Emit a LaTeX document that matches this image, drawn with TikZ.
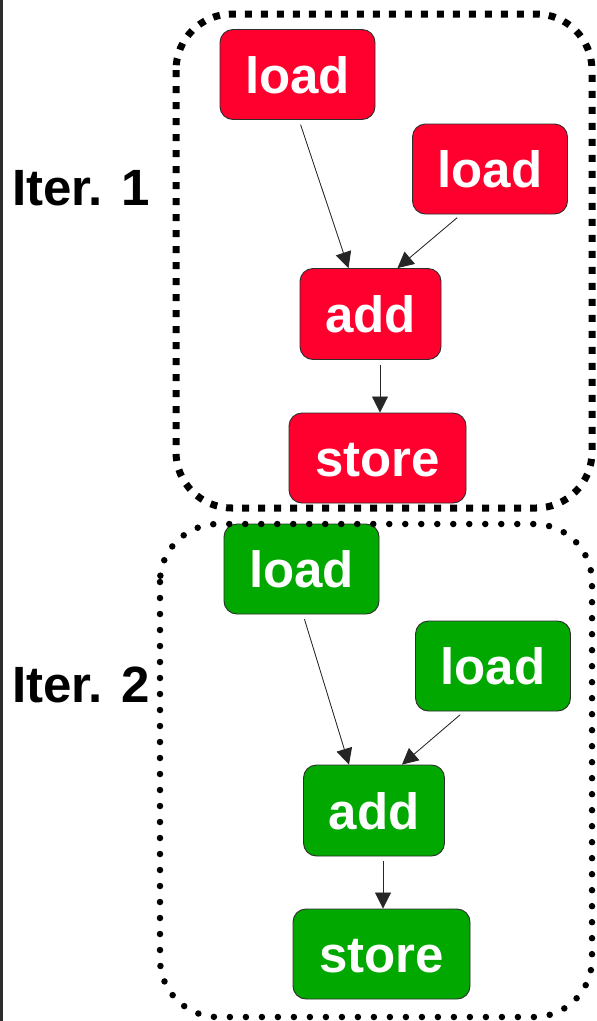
\documentclass[tikz,border=0pt]{standalone}
\usepackage{fontspec}
\setmainfont{Liberation Sans}
\usetikzlibrary{arrows.meta}
\definecolor{opred}{RGB}{255,0,46}
\definecolor{opgreen}{RGB}{0,168,0}
\definecolor{edgegray}{RGB}{45,45,45}
\begin{document}
\begin{tikzpicture}[x=1pt,y=-1pt,
  op/.style={draw=edgegray, line width=0.9pt, rounded corners=13pt, text=white,
    font=\fontsize{51}{60}\selectfont\bfseries, inner sep=0pt, text height=37pt, text depth=0pt},
  opr/.style={op, fill=opred},
  opg/.style={op, fill=opgreen},
  loadbox/.style={minimum width=155pt, minimum height=90pt},
  addbox/.style={minimum width=141pt, minimum height=91pt},
  storebox/.style={minimum width=177pt, minimum height=90pt},
  arr/.style={-{Triangle[length=16pt,width=16pt]}, line width=0.8pt, draw=black!85, fill=black, shorten <=5pt},
  iterlabel/.style={font=\fontsize{51}{60}\selectfont\bfseries, anchor=base west, inner sep=0pt},
  boxone/.style={line width=7pt, dash pattern=on 7pt off 9pt, rounded corners=56pt},
  boxtwo/.style={line width=6.5pt, dash pattern=on 0pt off 16pt, line cap=round, rounded corners=58pt}]
\useasboundingbox (0,0) rectangle (597,1021);
\fill[white] (0,0) rectangle (597,1021);
% left edge line
\draw[line width=2.5pt, edgegray] (1.3,0) -- (1.3,1021);

% Iteration 1
\node[opr, loadbox] (l1) at (297.5,74.5) {load};
\node[opr, loadbox] (l2) at (490,169) {load};
\node[opr, addbox] (a1) at (370.5,314) {add};
\node[opr, storebox] (s1) at (377.5,458) {store};
\draw[arr] ([xshift=1.5pt]l1.south) -- ([xshift=-22pt]a1.north);
\draw[arr] ([xshift=-29pt]l2.south) -- ([xshift=27pt]a1.north);
\draw[arr] ([xshift=9.5pt]a1.south) -- ([xshift=2.5pt]s1.north);
\node[iterlabel] (it1) at (12,205) {Iter. 1};

% Iteration 2
\node[opg, loadbox] (g1) at (301.5,569) {load};
\node[opg, loadbox] (g2) at (493,666) {load};
\node[opg, addbox] (ga) at (374,810.5) {add};
\node[opg, storebox] (gs) at (381.5,954) {store};
\draw[arr] ([xshift=1.5pt]g1.south) -- ([xshift=-25pt]ga.north);
\draw[arr] ([xshift=-29pt]g2.south) -- ([xshift=28pt]ga.north);
\draw[arr] ([xshift=9pt]ga.south) -- ([xshift=1.5pt]gs.north);
\node[iterlabel] (it2) at (12,702) {Iter. 2};

% iteration boxes
\draw[boxone] (176,14) rectangle (592,508);
\draw[boxtwo] (160,524) rectangle (592,1017);
\end{tikzpicture}
\end{document}
